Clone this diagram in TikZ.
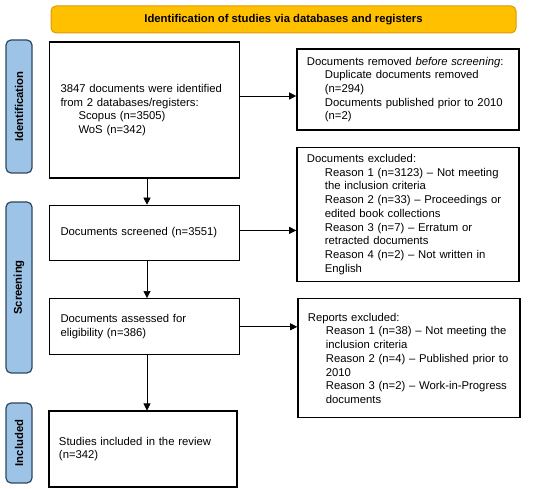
\documentclass[tikz,border=0pt]{standalone}
\usepackage{fontspec}
\setmainfont{Liberation Sans}
\usetikzlibrary{positioning, arrows.meta}

\definecolor{bannerfill}{HTML}{FFC000}
\definecolor{bannerdraw}{HTML}{E09A00}
\definecolor{stagefill}{HTML}{9DC3E6}
\definecolor{stagedraw}{HTML}{2E4760}

\newcommand{\ind}{\hspace*{18pt}}

\begin{document}
\begin{tikzpicture}[
        x=1pt, y=-1pt,
        font=\fontsize{11.3}{13.7}\selectfont,
        % Define styles for the nodes
        banner_node/.style={draw=bannerdraw, fill=bannerfill, line width=1pt, rounded corners=5pt, minimum width=465pt, minimum height=27pt, font=\fontsize{11.3}{13.7}\selectfont\bfseries},
        stage_node/.style={draw=stagedraw, fill=stagefill, line width=1.2pt, rounded corners=5pt, rotate=90, minimum height=26pt, inner sep=0pt, font=\fontsize{11.3}{13.7}\selectfont\bfseries},
        box_node/.style={draw, line width=1.4pt, align=left, inner sep=0pt, inner xsep=10pt},
        left_box/.style={box_node, minimum width=189pt, text width=168pt},
        right_box/.style={box_node, minimum width=222pt, text width=202pt},
        arrow/.style={-{Triangle[length=7pt, width=7pt]}, line width=0.6pt}
    ]

    \useasboundingbox (0,0) rectangle (550,489);

    % Title banner
    \node (banner) [banner_node] at (283.5,19.5) {Identification of studies via databases and registers};

    % Stage labels on the left
    \node (idlabel) [stage_node, minimum width=133pt] at (19,106.5) {Identification};
    \node (scrlabel) [stage_node, minimum width=171pt] at (19,287.5) {Screening};
    \node (inclabel) [stage_node, minimum width=80pt] at (19,443) {Included};

    % Main column
    \node (ident) [left_box, minimum height=136pt, inner xsep=11pt] at (144.5,110) {3847 documents were identified\\from 2 databases/registers:\\\ind Scopus (n=3505)\\\ind WoS (n=342)};
    \node (screened) [left_box, minimum height=55pt, inner xsep=11pt, below=26pt of ident] {Documents screened (n=3551)};
    \node (assessed) [left_box, minimum height=56pt, inner xsep=11pt, below=37pt of screened] {Documents assessed for\\eligibility (n=386)};
    \node (included) [left_box, minimum width=188pt, minimum height=76pt, below=55pt of assessed, xshift=-1.5pt] {Studies included in the review\\(n=342)};

    % Right column
    \node (removed) [right_box, minimum height=81pt, right=56pt of ident, yshift=20.5pt] {Documents removed \textit{before screening}:\\\ind Duplicate documents removed\\\ind (n=294)\\\ind Documents published prior to 2010\\\ind (n=2)};
    \node (excluded) [right_box, minimum height=134pt, right=56pt of screened, yshift=18.5pt] {Documents excluded:\\\ind Reason 1 (n=3123) -- Not meeting\\\ind the inclusion criteria\\\ind Reason 2 (n=33) -- Proceedings or\\\ind edited book collections\\\ind Reason 3 (n=7) -- Erratum or\\\ind retracted documents\\\ind Reason 4 (n=2) -- Not written in\\\ind English};
    \node (reports) [right_box, minimum width=221pt, minimum height=119pt, right=57pt of assessed, yshift=-31.5pt] {Reports excluded:\\\ind Reason 1 (n=38) -- Not meeting the\\\ind inclusion criteria\\\ind Reason 2 (n=4) -- Published prior to\\\ind 2010\\\ind Reason 3 (n=2) -- Work-in-Progress\\\ind documents};

    % Connectors
    \draw [arrow] ([xshift=2.5pt]ident.south) -- ([xshift=2.5pt]ident.south |- screened.north);
    \draw [arrow] ([xshift=2.5pt]screened.south) -- ([xshift=2.5pt]screened.south |- assessed.north);
    \draw [arrow] ([xshift=2.5pt]assessed.south) -- ([xshift=2.5pt]assessed.south |- included.north);
    \draw [arrow] ([yshift=14pt]ident.east) -- ([yshift=14pt]ident.east -| removed.west);
    \draw [arrow] ([yshift=2.5pt]screened.east) -- ([yshift=2.5pt]screened.east -| excluded.west);
    \draw [arrow] (assessed.east) -- (assessed.east -| reports.west);

\end{tikzpicture}
\end{document}
